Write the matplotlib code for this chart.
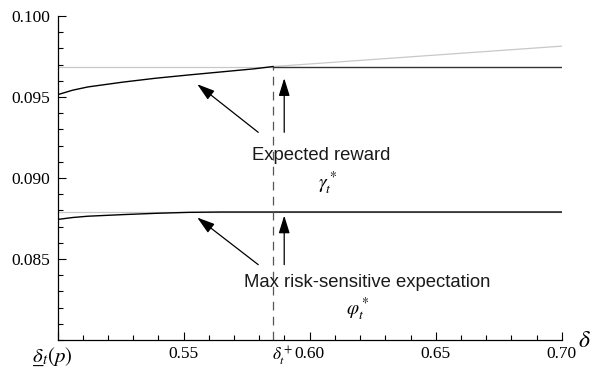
import matplotlib.pyplot as plt
from matplotlib.ticker import MultipleLocator
from matplotlib.transforms import ScaledTranslation

plt.rcParams['mathtext.fontset'] = 'stix'
plt.rcParams['font.family'] = ['Liberation Serif', 'DejaVu Serif']

# switching point delta_t^+
delta_plus = 0.5855

# expected reward gamma_t^*
gamma_x = [0.500, 0.506, 0.512, 0.526, 0.539, 0.552, 0.565, 0.578, 0.5855]
gamma_y = [0.09514, 0.09542, 0.09562, 0.09592, 0.09616, 0.09636, 0.09655, 0.09674, 0.09688]
gamma_flat = 0.09688
gamma_free_x = [0.5855, 0.70]
gamma_free_y = [0.09688, 0.09814]

# max risk-sensitive expectation phi_t^*
phi_x = [0.500, 0.506, 0.512, 0.526, 0.539, 0.552, 0.565, 0.70]
phi_y = [0.08744, 0.08756, 0.08764, 0.08774, 0.08782, 0.08788, 0.0879, 0.0879]
phi_flat = 0.0879

xticks = [0.50, 0.55, 0.60, 0.65, 0.70]
xticklabels = ['$\u03b4\u0332_t(p)$', '0.55', '0.60', '0.65', '0.70']
yticks = [0.085, 0.090, 0.095, 0.100]
yticklabels = ['0.085', '0.090', '0.095', '0.100']

fig = plt.figure(figsize=(5.99, 3.67), dpi=100)
ax = fig.add_axes([0.096, 0.0736, 0.842, 0.8828])

# gray reference lines
ax.plot([0.5, delta_plus], [gamma_flat, gamma_flat], color='#c8c8c8', lw=0.9)
ax.plot(gamma_free_x, gamma_free_y, color='#c8c8c8', lw=0.9)
ax.plot([0.5, 0.70], [phi_flat, phi_flat], color='#c8c8c8', lw=0.9)

# main curves
ax.plot(gamma_x, gamma_y, color='black', lw=1.0)
ax.plot([delta_plus, 0.70], [gamma_flat, gamma_flat], color='#333333', lw=1.0)
ax.plot(phi_x, phi_y, color='black', lw=1.0)

# dashed line at delta_t^+
ax.plot([delta_plus, delta_plus], [0.080, gamma_flat], color='#555555', lw=0.9,
        dashes=(7, 5))

arrow = dict(arrowstyle='-|>,head_length=0.9,head_width=0.28', color='black',
             lw=0.9, shrinkA=0, shrinkB=0, mutation_scale=12)
ax.annotate('', xy=(0.5554, 0.09579), xytext=(0.5796, 0.09282), arrowprops=arrow)
ax.annotate('', xy=(0.5899, 0.09616), xytext=(0.5899, 0.09282), arrowprops=arrow)
ax.annotate('', xy=(0.5554, 0.08756), xytext=(0.5796, 0.08465), arrowprops=arrow)
ax.annotate('', xy=(0.5899, 0.08768), xytext=(0.5899, 0.08465), arrowprops=arrow)

ax.text(0.6046, 0.0914, 'Expected reward', ha='center', va='center',
        family='Liberation Sans', fontsize=13.3, color='#1a1a1a')
ax.text(0.607, 0.0897, r'$\gamma_t^*$', ha='center', va='center', fontsize=14)
ax.text(0.6230, 0.08353, 'Max risk-sensitive expectation', ha='center', va='center',
        family='Liberation Sans', fontsize=13.3, color='#1a1a1a')
ax.text(0.6189, 0.0819, r'$\varphi_t^*$', ha='center', va='center', fontsize=14)

ax.text(delta_plus - 0.0003, -0.015, r'$\delta_t^+$', transform=ax.get_xaxis_transform(),
        ha='left', va='top', fontsize=12.5)
ax.text(1.045, -0.005, r'$\delta$', transform=ax.transAxes, ha='center', va='center',
        fontsize=17)

ax.set_xlim(0.5, 0.70)
ax.set_ylim(0.080, 0.100)
ax.set_xticks(xticks)
ax.set_xticklabels(xticklabels)
ax.set_yticks(yticks)
ax.set_yticklabels(yticklabels)
ax.xaxis.set_minor_locator(MultipleLocator(0.01))
ax.yaxis.set_minor_locator(MultipleLocator(0.001))
ax.tick_params(which='both', direction='in', labelsize=12.5, width=0.8)
ax.tick_params(which='major', length=6)
ax.tick_params(which='minor', length=3.5)
ax.tick_params(axis='x', pad=4)
ax.tick_params(axis='y', pad=5)
first = ax.get_xticklabels()[0]
first.set_fontsize(15)
first.set_transform(first.get_transform() + ScaledTranslation(-4 / 72, 0, fig.dpi_scale_trans))

ax.spines['top'].set_visible(False)
ax.spines['right'].set_visible(False)
ax.spines['left'].set_linewidth(0.9)
ax.spines['bottom'].set_linewidth(0.9)

fig.savefig('out.png', dpi=100)
